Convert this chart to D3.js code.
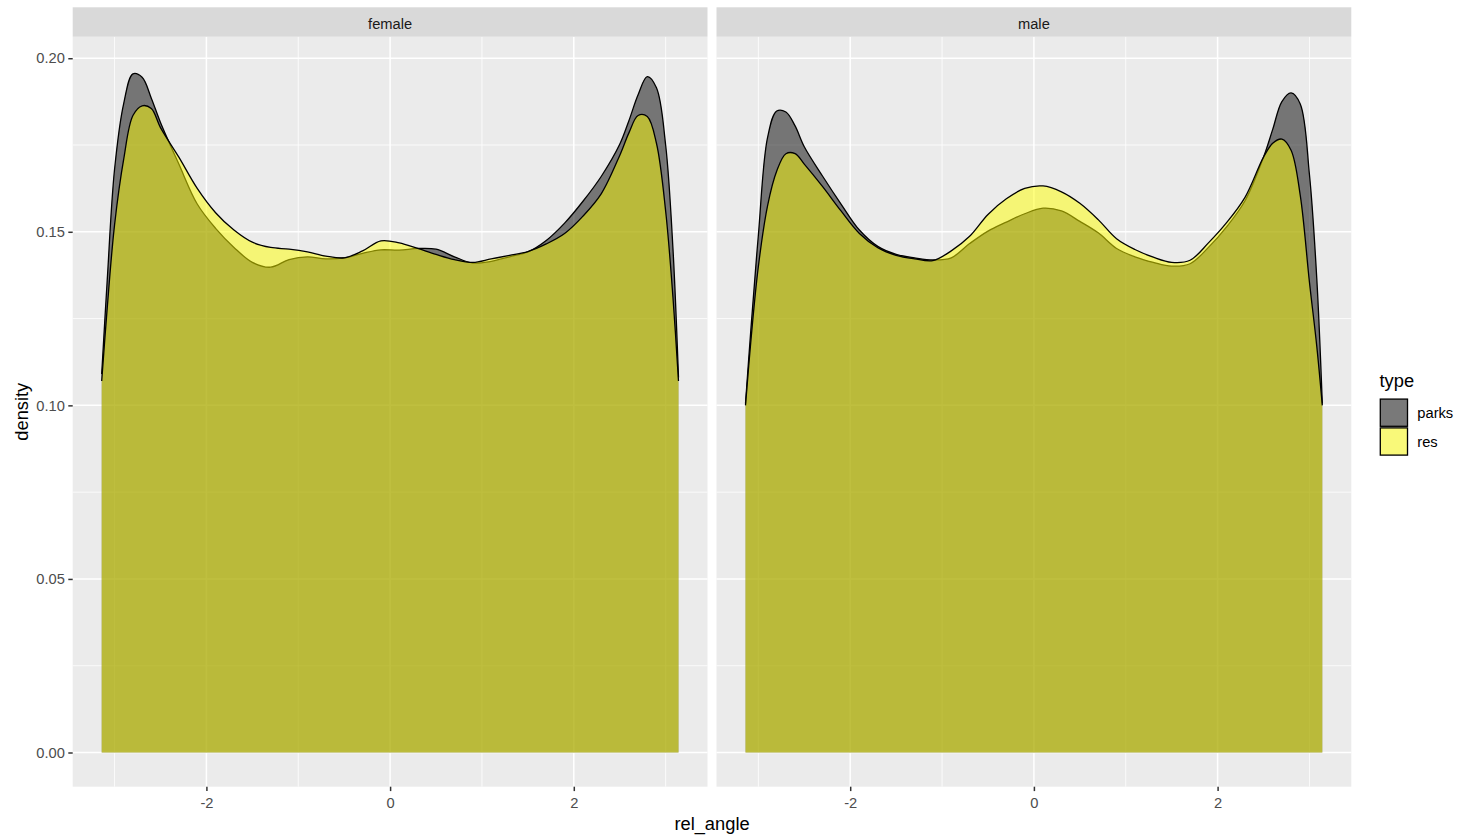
<!DOCTYPE html>
<html>
<head>
<meta charset="utf-8">
<script src="https://cdn.jsdelivr.net/npm/d3@7"></script>
<style>
  body { margin: 0; background: #fff; }
  text { font-family: "Liberation Sans", Arial, sans-serif; }
</style>
</head>
<body>
<svg id="chart" width="1460" height="837"></svg>
<script>
// rel_angle grid the densities were read at
const angles = [-3.14, -3.08, -3.0, -2.9, -2.8, -2.7, -2.6, -2.5, -2.3, -2.1, -1.9, -1.7, -1.5, -1.3, -1.1,
  -0.9, -0.7, -0.5, -0.3, -0.1, 0.1, 0.3, 0.5, 0.7, 0.9, 1.1, 1.3, 1.5, 1.7, 1.9, 2.1, 2.3, 2.5, 2.6,
  2.7, 2.8, 2.9, 3.0, 3.08, 3.14];

const femaleParks = [0.109, 0.136, 0.168, 0.187, 0.1955, 0.1945, 0.1885, 0.1815, 0.1695, 0.158, 0.151,
  0.1455, 0.1412, 0.1398, 0.142, 0.1428, 0.1422, 0.1425, 0.1438, 0.1448, 0.1447, 0.1452, 0.145, 0.1428,
  0.141, 0.1415, 0.1428, 0.1442, 0.1475, 0.1525, 0.1588, 0.166, 0.1752, 0.182, 0.1895, 0.1947, 0.1915,
  0.175, 0.145, 0.108];
const femaleRes = [0.107, 0.128, 0.152, 0.171, 0.1835, 0.1863, 0.1855, 0.18, 0.1715, 0.1625, 0.1555,
  0.1505, 0.147, 0.1455, 0.145, 0.1442, 0.143, 0.1425, 0.1445, 0.1474, 0.1468, 0.1452, 0.1435, 0.142,
  0.1412, 0.1422, 0.1432, 0.1443, 0.1465, 0.1495, 0.1545, 0.161, 0.172, 0.1785, 0.1835, 0.1832, 0.1755,
  0.156, 0.131, 0.107];
const maleParks = [0.1005, 0.1224, 0.149, 0.1771, 0.1848, 0.1845, 0.1805, 0.1745, 0.166, 0.158, 0.1505,
  0.1458, 0.1435, 0.1425, 0.1419, 0.1425, 0.1466, 0.1502, 0.1528, 0.1552, 0.1568, 0.156, 0.153, 0.1497,
  0.1452, 0.1428, 0.1412, 0.1401, 0.1408, 0.1455, 0.1515, 0.159, 0.1715, 0.1795, 0.1875, 0.19, 0.1868,
  0.1665, 0.1365, 0.1005];
const maleRes = [0.1, 0.119, 0.14, 0.1575, 0.1675, 0.1725, 0.1725, 0.1695, 0.163, 0.156, 0.1495, 0.1454,
  0.1432, 0.1422, 0.1417, 0.1445, 0.1487, 0.155, 0.1595, 0.1625, 0.1632, 0.1615, 0.1582, 0.1535, 0.148,
  0.1449, 0.1427, 0.1412, 0.1418, 0.1468, 0.1527, 0.16, 0.1715, 0.1755, 0.1767, 0.1735, 0.1605, 0.1355,
  0.117, 0.1];

const panels = ["female", "male"];
const types = ["parks", "res"];
const fills = { parks: "#000000", res: "#ffff00" };
const xTicks = [-2, 0, 2];
const xMinor = [-3, -1, 1, 3];
const yTicks = [0, 0.05, 0.1, 0.15, 0.2];
const yMinor = [0.025, 0.075, 0.125, 0.175];

const series = {
  female: { parks: femaleParks, res: femaleRes },
  male: { parks: maleParks, res: maleRes }
};

const svg = d3.select("#chart");
const panelTop = 36.7, panelBottom = 786.7, stripTop = 7.3;
const panelW = 634.8;
const panelLeft = { female: 72.7, male: 716.5 };
const tickFont = "14.7px", titleFont = "18.3px";

// data range is -pi..pi, ggplot adds 5% each side
const xr = Math.PI * 1.1;
const y = d3.scaleLinear().domain([-0.00985, 0.2062]).range([panelBottom, panelTop]);

panels.forEach(p => {
  const x = d3.scaleLinear().domain([-xr, xr]).range([panelLeft[p], panelLeft[p] + panelW]);
  const g = svg.append("g").attr("class", "panel" + p);

  g.append("rect")
    .attr("x", panelLeft[p]).attr("y", panelTop)
    .attr("width", panelW).attr("height", panelBottom - panelTop)
    .attr("fill", "#ebebeb");

  // minor grid
  g.selectAll(".xminor").data(xMinor).enter().append("line")
    .attr("x1", d => x(d)).attr("x2", d => x(d)).attr("y1", panelTop).attr("y2", panelBottom)
    .attr("stroke", "#fff").attr("stroke-width", 0.8);
  g.selectAll(".yminor").data(yMinor).enter().append("line")
    .attr("x1", panelLeft[p]).attr("x2", panelLeft[p] + panelW)
    .attr("y1", d => y(d)).attr("y2", d => y(d))
    .attr("stroke", "#fff").attr("stroke-width", 0.8);
  // major grid
  g.selectAll(".xmajor").data(xTicks).enter().append("line")
    .attr("x1", d => x(d)).attr("x2", d => x(d)).attr("y1", panelTop).attr("y2", panelBottom)
    .attr("stroke", "#fff").attr("stroke-width", 1.5);
  g.selectAll(".ymajor").data(yTicks).enter().append("line")
    .attr("x1", panelLeft[p]).attr("x2", panelLeft[p] + panelW)
    .attr("y1", d => y(d)).attr("y2", d => y(d))
    .attr("stroke", "#fff").attr("stroke-width", 1.5);

  const area = d3.area()
    .x((d, i) => x(angles[i]))
    .y0(y(0))
    .y1(d => y(d))
    .curve(d3.curveCatmullRom);
  const line = d3.line()
    .x((d, i) => x(angles[i]))
    .y(d => y(d))
    .curve(d3.curveCatmullRom);

  types.forEach(t => {
    g.append("path")
      .datum(series[p][t])
      .attr("d", area)
      .attr("fill", fills[t])
      .attr("fill-opacity", 0.5);
    g.append("path")
      .datum(series[p][t])
      .attr("d", line)
      .attr("fill", "none")
      .attr("stroke", "#000")
      .attr("stroke-width", 1.3);
  });

  // strip
  g.append("rect")
    .attr("x", panelLeft[p]).attr("y", stripTop)
    .attr("width", panelW).attr("height", panelTop - stripTop)
    .attr("fill", "#d9d9d9");
  g.append("text")
    .attr("x", panelLeft[p] + panelW / 2).attr("y", (stripTop + panelTop) / 2 + 2)
    .attr("dy", "0.35em")
    .attr("text-anchor", "middle")
    .attr("font-size", tickFont)
    .attr("fill", "#1a1a1a")
    .text(p);

  // x axis
  const xAxis = g.append("g")
    .attr("transform", "translate(0," + panelBottom + ")")
    .call(d3.axisBottom(x).tickValues(xTicks).tickFormat(d => String(d)).tickSize(4.4).tickPadding(6.5));
  xAxis.select(".domain").remove();
  xAxis.selectAll("line").attr("stroke", "#333333").attr("stroke-width", 1.5);
  xAxis.selectAll("text")
    .attr("fill", "#4d4d4d")
    .attr("font-size", tickFont)
    .attr("font-family", "Liberation Sans, Arial, sans-serif");

  if (p === "female") {
    const yAxis = g.append("g")
      .attr("transform", "translate(" + panelLeft[p] + ",0)")
      .call(d3.axisLeft(y).tickValues(yTicks).tickFormat(d3.format(".2f")).tickSize(4.4).tickPadding(3.5));
    yAxis.select(".domain").remove();
    yAxis.selectAll("line").attr("stroke", "#333333").attr("stroke-width", 1.5);
    yAxis.selectAll("text")
      .attr("fill", "#4d4d4d")
      .attr("font-size", tickFont)
      .attr("font-family", "Liberation Sans, Arial, sans-serif");
  }
});

// axis titles
svg.append("text")
  .attr("x", (panelLeft.female + panelLeft.male + panelW) / 2)
  .attr("y", 830)
  .attr("text-anchor", "middle")
  .attr("font-size", titleFont)
  .attr("fill", "#000")
  .text("rel_angle");
svg.append("text")
  .attr("transform", "translate(28," + (panelTop + panelBottom) / 2 + ") rotate(-90)")
  .attr("text-anchor", "middle")
  .attr("font-size", titleFont)
  .attr("fill", "#000")
  .text("density");

// legend
const legend = svg.append("g").attr("transform", "translate(1379.5,0)");
legend.append("text")
  .attr("x", 0).attr("y", 387)
  .attr("font-size", titleFont)
  .attr("fill", "#000")
  .text("type");
const key = 28.8;
const keys = legend.selectAll(".key").data(types).enter().append("g")
  .attr("transform", (d, i) => "translate(0," + (398.3 + i * key) + ")");
keys.append("rect")
  .attr("width", key).attr("height", key)
  .attr("fill", "#f2f2f2");
keys.append("rect")
  .attr("x", 0.8).attr("y", 0.8)
  .attr("width", key - 1.6).attr("height", key - 1.6)
  .attr("fill", d => fills[d])
  .attr("fill-opacity", 0.5)
  .attr("stroke", "#000")
  .attr("stroke-width", 1.3);
keys.append("text")
  .attr("x", key + 9).attr("y", key / 2)
  .attr("dy", "0.35em")
  .attr("font-size", tickFont)
  .attr("fill", "#000")
  .text(d => d);
</script>
</body>
</html>
